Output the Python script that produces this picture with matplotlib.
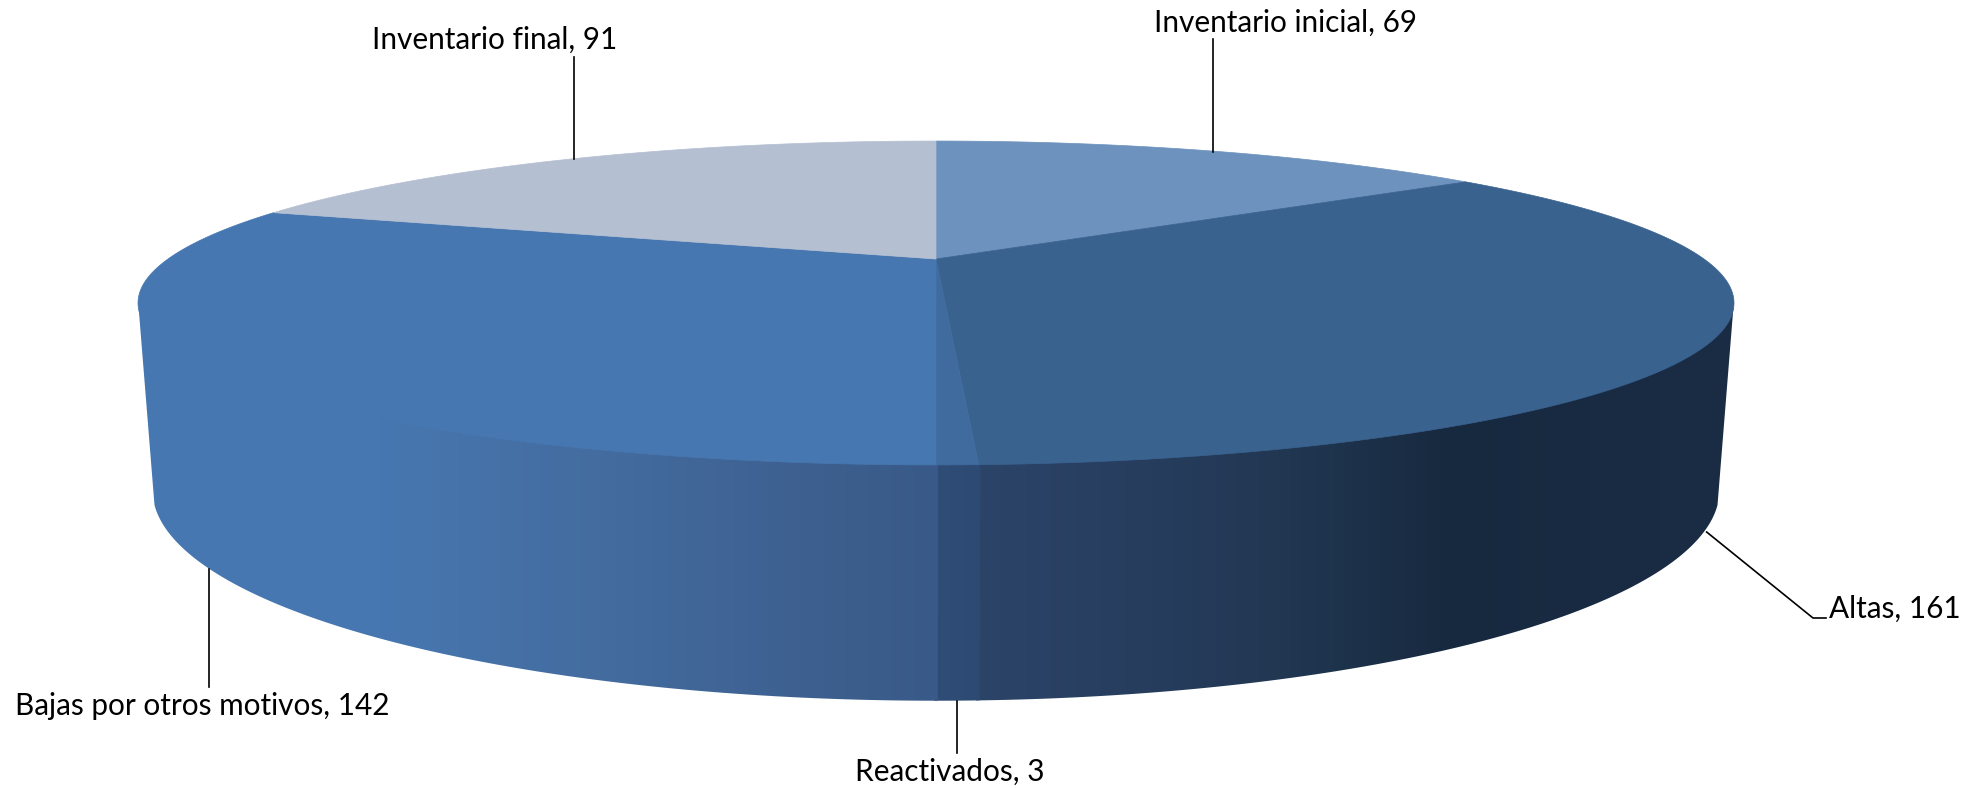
"""3D-looking pie of the inventory movements, drawn on a pixel-sized axes."""
import numpy as np
import matplotlib
matplotlib.use("Agg")
import matplotlib.pyplot as plt
from matplotlib.colors import to_rgb
from matplotlib.patches import Polygon

categories = ["Inventario inicial", "Altas", "Reactivados", "Bajas por otros motivos", "Inventario final"]
values = [69, 161, 3, 142, 91]

top_colors = ["#6C92BD", "#3A628F", "#3F6B9F", "#4777B0", "#B5BFD2"]
# side shading: (x pixel, colour) stops, by slice
side_stops = {
    1: [(976, "#2B4468"), (1150, "#273D5E"), (1300, "#203650"), (1450, "#17293F"), (1730, "#1A2D45")],
    2: [(936, "#2F4D77"), (976, "#2D4A72")],
    3: [(140, "#4777B0"), (380, "#4777B0"), (600, "#446C9F"), (800, "#3D6090"), (936, "#395A88")],
}

W, H = 1972, 788
CX = 936
K = -0.2716
TOP = (259, 150, 768)      # y0, a, b of the top disc
BOTTOM = (433, 195, 754)   # same for the lower rim
T_RIGHT, T_LEFT = 105.76, 254.24   # silhouette of the top disc
T_CORNER = 109.6                   # where the lower rim starts to show


def project(theta, disc):
    """Clockwise angle from 12 o'clock on the unit disc to image pixels."""
    t = np.radians(theta)
    u, v = np.sin(t), -np.cos(t)
    d = 1 + K * v
    return CX + disc[2] * u / d, disc[0] + disc[1] * v / d


def arc(a, b, disc, n=200):
    x, y = project(np.linspace(a, b, n), disc)
    return np.column_stack([x, y])


edges = np.concatenate([[0], np.cumsum(values)]) / sum(values) * 360.0
mids = (edges[:-1] + edges[1:]) / 2

fig = plt.figure(figsize=(W / 100, H / 100), dpi=100)
ax = fig.add_axes([0, 0, 1, 1])
ax.set_xlim(0, W)
ax.set_ylim(H, 0)
ax.axis("off")

# side wall, one clipped horizontal gradient per visible slice
xs = np.arange(W)
for i, stops in side_stops.items():
    # small overlap so no seam shows between slices
    a, b = max(edges[i] - 0.1, T_RIGHT), min(edges[i + 1] + 0.1, T_LEFT)
    ts = np.linspace(a, b, 200)
    upper = arc(a, b, TOP)
    upper[:, 1] -= 3  # tuck under the top face
    lower = np.column_stack(project(np.clip(ts, T_CORNER, 360 - T_CORNER), BOTTOM))
    poly = Polygon(np.vstack([upper, lower[::-1]]), closed=True, fc="none", ec="none",
                   transform=ax.transData)
    ax.add_patch(poly)
    px = [s[0] for s in stops]
    rgb = np.array([to_rgb(s[1]) for s in stops])
    grad = np.stack([np.interp(xs, px, rgb[:, c]) for c in range(3)], axis=1)[None, :, :]
    im = ax.imshow(grad, extent=(0, W, H, 0), aspect="auto", interpolation="nearest", zorder=1)
    im.set_clip_path(poly)

# top face
for i, color in enumerate(top_colors):
    pts = np.vstack([[project(0.0, TOP)[0], TOP[0]], arc(edges[i], edges[i + 1], TOP)])
    ax.add_patch(Polygon(pts, closed=True, fc=color, ec=color, lw=0.5, zorder=2))

# leader lines
xf, _ = project(mids[4], TOP)
xi, _ = project(mids[0], TOP)
xa, ya = project(mids[1], BOTTOM)
xb, _ = project(mids[3], BOTTOM)
xr, _ = project(mids[2], BOTTOM)
line = dict(color="black", lw=1.2, zorder=3)
ax.plot([xf, xf], [57, 159], **line)
ax.plot([xi, xi], [39, 152], **line)
ax.plot([xa, 1813, 1826], [ya + 4, 618, 618], **line)
ax.plot([xb + 4, xb + 4], [569, 687], **line)
ax.plot([xr, xr], [701, 753], **line)

label_pos = [(1286, 23), (1895, 609), (950, 772), (202, 706), (495, 40)]
for name, val, (x, y) in zip(categories, values, label_pos):
    ax.text(x, y, f"{name}, {val}", ha="center", va="center", fontsize=21.4,
            family="Lato", color="black", zorder=4)

fig.savefig("out.png", dpi=100)
